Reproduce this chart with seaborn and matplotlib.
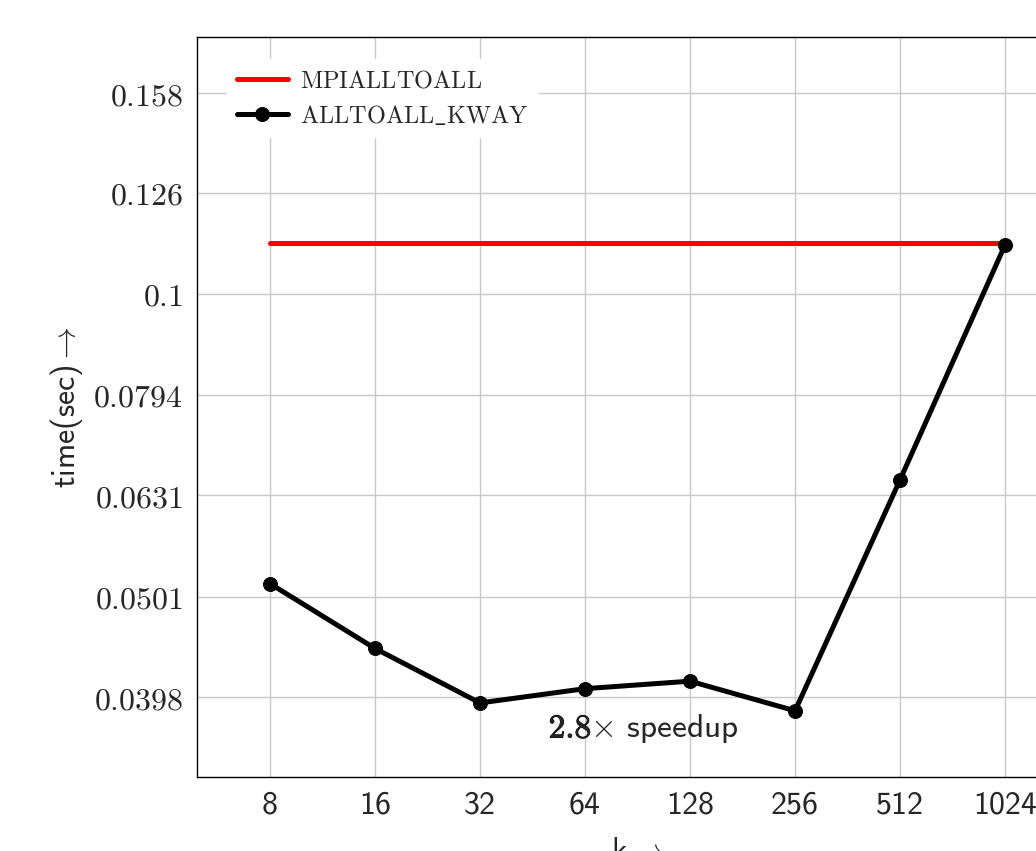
import numpy as np
import pandas as pd
import matplotlib
matplotlib.use("Agg")
import matplotlib.pyplot as plt
import matplotlib.patheffects as pe
import seaborn as sns
from matplotlib.ticker import FixedLocator, FixedFormatter, NullLocator

# data
k_values = [8, 16, 32, 64, 128, 256, 512, 1024]
kway_time = [0.0516, 0.0445, 0.0393, 0.0406, 0.0413, 0.0386, 0.0654, 0.1118]
mpi_time = [0.1123] * len(k_values)
y_ticks = [0.0398, 0.0501, 0.0631, 0.0794, 0.1, 0.126, 0.158]
y_tick_labels = ["0.0398", "0.0501", "0.0631", "0.0794", "0.1", "0.126", "0.158"]

sns.set_theme(style="whitegrid")
plt.rcParams["mathtext.fontset"] = "cm"
plt.rcParams["font.family"] = ["DejaVu Sans"]
plt.rcParams["axes.unicode_minus"] = False

df = pd.DataFrame({
    "k": k_values * 2,
    "time": mpi_time + kway_time,
    "series": ["MPIALLTOALL"] * len(k_values) + ["ALLTOALL_KWAY"] * len(k_values),
})

fig = plt.figure(figsize=(10.36, 8.51), dpi=100)
ax = fig.add_axes([0.1902, 0.0870, 0.8504, 0.8695])

sns.lineplot(data=df[df.series == "MPIALLTOALL"], x="k", y="time", color="#ff0000",
             lw=3.6, ax=ax, label=r"$\mathrm{MPIALLTOALL}$")
sns.lineplot(data=df[df.series == "ALLTOALL_KWAY"], x="k", y="time", color="black",
             lw=3.6, marker="o", markersize=10, markeredgecolor="black", ax=ax,
             label=r"$\mathrm{ALLTOALL\_KWAY}$")

ax.set_xscale("log", base=2)
ax.set_yscale("log")
ax.set_xlim(8 * 2 ** (-73 / 105), 1024 * 2 ** (73 / 105))
ax.set_ylim(10 ** -1.479, 10 ** -0.7455)

ax.xaxis.set_major_locator(FixedLocator(k_values))
ax.xaxis.set_major_formatter(FixedFormatter([str(k) for k in k_values]))
ax.xaxis.set_minor_locator(NullLocator())
ax.yaxis.set_major_locator(FixedLocator(y_ticks))
ax.yaxis.set_major_formatter(FixedFormatter([r"$%s$" % t for t in y_tick_labels]))
ax.yaxis.set_minor_locator(NullLocator())
ax.tick_params(axis="y", labelsize=23, length=0, pad=10)
ax.tick_params(axis="x", labelsize=23, length=0, pad=10)
for lbl in ax.get_xticklabels():
    lbl.set_fontfamily("cmss10")

ax.grid(True, color="#c8c8c8", lw=1)
ax.set_facecolor("white")
for s in ax.spines.values():
    s.set_color("black")
    s.set_linewidth(1)

ax.set_xlabel(r"k$\rightarrow$", fontsize=23, labelpad=12, fontfamily="cmss10")
ax.set_ylabel(r"time(sec)$\rightarrow$", fontsize=23, labelpad=6, fontfamily="cmss10")

# annotation: bold "2.8" then "× speedup"
t1 = ax.text(58, 0.0371, r"$2.8$", fontsize=24, ha="center", va="center")
t1.set_path_effects([pe.withStroke(linewidth=0.7, foreground="black")])
ax.text(66, 0.0371, r"$\times$ speedup", fontsize=24, ha="left", va="center",
        fontfamily="cmss10")

leg = ax.legend(loc="upper left", bbox_to_anchor=(0.009, 1.0), fontsize=17.5,
                frameon=True, fancybox=False, edgecolor="white", framealpha=1,
                handlelength=2.1, borderaxespad=0.9, labelspacing=0.45,
                handletextpad=0.5)

fig.savefig("out.png", dpi=100)
